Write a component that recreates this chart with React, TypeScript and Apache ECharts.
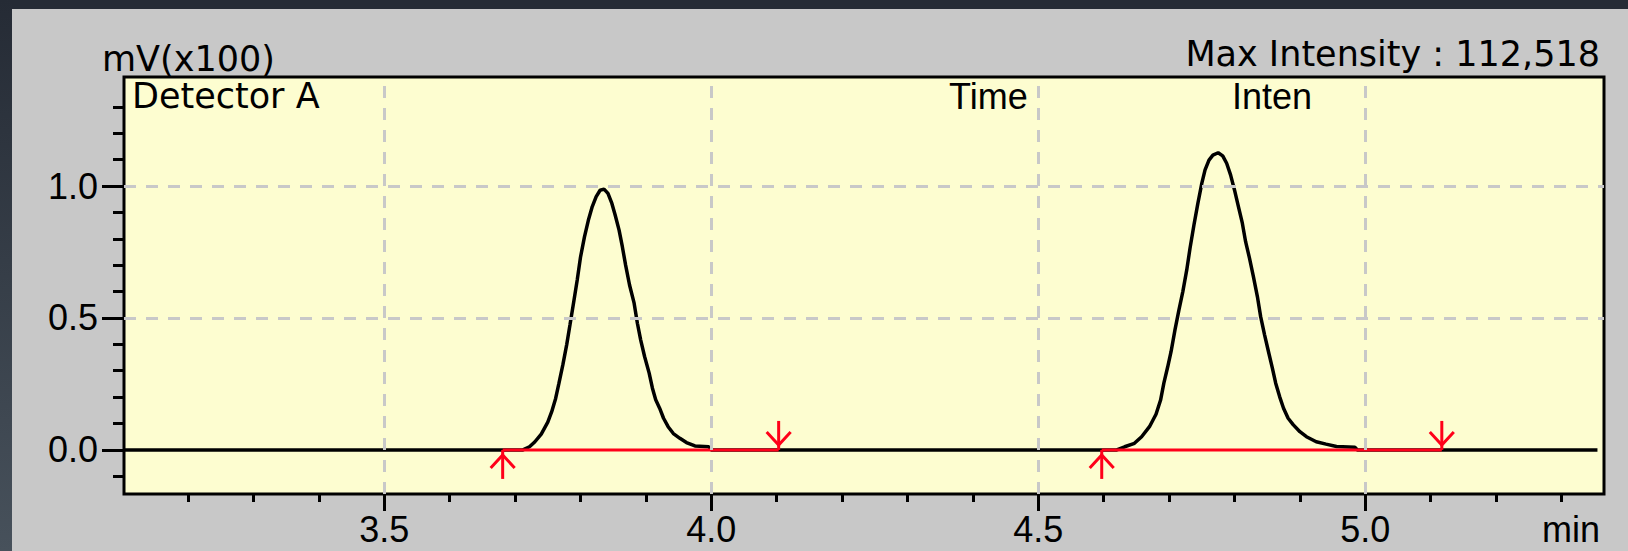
import React, { useEffect, useRef } from 'react';
import * as echarts from 'echarts';

// ---- axis ranges & ticks ----
const xMin = 3.102;
const xMax = 5.365;
const yMin = -0.167;
const yMax = 1.413;

const xMajorTicks = [3.5, 4.0, 4.5, 5.0];
const xMinorTicks = [3.2, 3.3, 3.4, 3.6, 3.7, 3.8, 3.9, 4.1, 4.2, 4.3, 4.4, 4.6, 4.7, 4.8, 4.9, 5.1, 5.2, 5.3];
const yMajorTicks = [0, 0.5, 1.0];
const yMinorTicks = [-0.1, 0.1, 0.2, 0.3, 0.4, 0.6, 0.7, 0.8, 0.9, 1.1, 1.2, 1.3];
const xGridLines = [3.5, 4.0, 4.5, 5.0];
const yGridLines = [0.5, 1.0];

// ---- chromatogram (min, mV x100) ----
const signalStart = 3.102;
const signalEnd = 5.355;

const peak1Time = [3.712, 3.722, 3.730, 3.740, 3.750, 3.756, 3.762, 3.767, 3.773, 3.779, 3.784, 3.790, 3.795, 3.800, 3.806, 3.812, 3.818, 3.824, 3.830, 3.836, 3.842, 3.848, 3.853, 3.859, 3.864, 3.869, 3.875, 3.882, 3.887, 3.892, 3.898, 3.905, 3.910, 3.915, 3.921, 3.927, 3.934, 3.942, 3.952, 3.962, 3.975, 3.996, 4.000];
const peak1Inten = [0, 0.012, 0.030, 0.060, 0.105, 0.145, 0.195, 0.252, 0.322, 0.400, 0.475, 0.566, 0.644, 0.730, 0.806, 0.870, 0.922, 0.960, 0.984, 0.988, 0.972, 0.934, 0.890, 0.833, 0.770, 0.700, 0.625, 0.556, 0.480, 0.417, 0.354, 0.291, 0.234, 0.190, 0.158, 0.120, 0.088, 0.062, 0.044, 0.028, 0.015, 0.012, 0];

const peak2Time = [4.620, 4.632, 4.647, 4.658, 4.670, 4.680, 4.687, 4.692, 4.698, 4.703, 4.709, 4.715, 4.721, 4.727, 4.732, 4.738, 4.744, 4.750, 4.755, 4.761, 4.767, 4.775, 4.782, 4.788, 4.794, 4.800, 4.806, 4.812, 4.817, 4.823, 4.829, 4.835, 4.840, 4.846, 4.852, 4.858, 4.863, 4.869, 4.875, 4.882, 4.890, 4.900, 4.910, 4.925, 4.940, 4.956, 4.984, 4.988];
const peak2Inten = [0, 0.012, 0.025, 0.050, 0.088, 0.135, 0.189, 0.253, 0.316, 0.372, 0.455, 0.530, 0.600, 0.682, 0.764, 0.852, 0.934, 1.010, 1.061, 1.098, 1.117, 1.126, 1.114, 1.086, 1.042, 0.985, 0.922, 0.859, 0.789, 0.726, 0.656, 0.581, 0.505, 0.436, 0.372, 0.309, 0.253, 0.202, 0.158, 0.120, 0.095, 0.069, 0.050, 0.031, 0.022, 0.013, 0.010, 0];

// integration marks
const peakStarts = [3.681, 4.597];
const peakEnds = [4.103, 5.117];

const RED = '#ff0019';
const GRID_GREY = '#c8c8c8';

export default function App() {
  const ref = useRef<HTMLDivElement>(null);

  useEffect(() => {
    if (!ref.current) return;
    const chart = echarts.init(ref.current, undefined, { renderer: 'svg' });

    const signal: number[][] = [[signalStart, 0]];
    peak1Time.forEach((t, i) => signal.push([t, peak1Inten[i]]));
    peak2Time.forEach((t, i) => signal.push([t, peak2Inten[i]]));
    signal.push([signalEnd, 0]);

    const markerData: number[][] = [];
    peakStarts.forEach((t) => markerData.push([t, 0, 1]));
    peakEnds.forEach((t) => markerData.push([t, 0, -1]));

    const baselineSeries = peakStarts.map((s, i) => ({
      type: 'line',
      data: [[s, 0], [peakEnds[i], 0]],
      symbol: 'none',
      silent: true,
      z: 4,
      lineStyle: { color: RED, width: 3 },
    }));

    const tickLine = { color: '#000', width: 3 };
    const labelFont = { color: '#000', fontSize: 36, fontFamily: '"Liberation Sans", Arial, sans-serif' };
    const noLine = { show: false, onZero: false };

    const option: any = {
      animation: false,
      backgroundColor: '#c8c8c8',
      grid: {
        left: 124,
        top: 77,
        width: 1480,
        height: 417,
        show: true,
        backgroundColor: '#fdfdd0',
        borderColor: '#000',
        borderWidth: 3,
        containLabel: false,
      },
      xAxis: [
        {
          type: 'value', min: xMin, max: xMax, position: 'bottom',
          axisLine: noLine, splitLine: { show: false },
          axisTick: { show: true, inside: false, length: 17, customValues: xMajorTicks, lineStyle: tickLine },
          axisLabel: {
            show: true, customValues: xMajorTicks, formatter: (v: number) => v.toFixed(1),
            margin: 35, verticalAlign: 'middle', ...labelFont,
          },
        },
        {
          type: 'value', min: xMin, max: xMax, position: 'bottom',
          axisLine: noLine, splitLine: { show: false }, axisLabel: { show: false },
          axisTick: { show: true, inside: false, length: 8, customValues: xMinorTicks, lineStyle: tickLine },
        },
      ],
      yAxis: [
        {
          type: 'value', min: yMin, max: yMax, position: 'left',
          axisLine: noLine, splitLine: { show: false },
          axisTick: { show: true, inside: false, length: 22, customValues: yMajorTicks, lineStyle: tickLine },
          axisLabel: {
            show: true, customValues: yMajorTicks, formatter: (v: number) => v.toFixed(1),
            margin: 26, ...labelFont,
          },
        },
        {
          type: 'value', min: yMin, max: yMax, position: 'left',
          axisLine: noLine, splitLine: { show: false }, axisLabel: { show: false },
          axisTick: { show: true, inside: false, length: 11, customValues: yMinorTicks, lineStyle: tickLine },
        },
      ],
      series: [
        {
          type: 'line',
          data: [],
          z: 1,
          silent: true,
          markLine: {
            silent: true,
            symbol: ['none', 'none'],
            label: { show: false },
            lineStyle: { color: GRID_GREY, width: 3, type: [12, 10] },
            data: [
              ...xGridLines.map((v) => ({ xAxis: v })),
              ...yGridLines.map((v) => ({ yAxis: v })),
            ],
          },
        },
        {
          type: 'line',
          data: signal,
          symbol: 'none',
          silent: true,
          z: 3,
          lineStyle: { color: '#000', width: 3.5 },
        },
        ...baselineSeries,
        {
          type: 'custom',
          data: markerData,
          z: 5,
          silent: true,
          encode: { x: 0, y: 1 },
          renderItem: (params: any, api: any) => {
            const p = api.coord([api.value(0), api.value(1)]);
            const dir = api.value(2); // 1 = start (below, arrow up), -1 = end (above, arrow down)
            const x = p[0];
            const y = p[1];
            const stroke = { stroke: RED, lineWidth: 3, fill: 'none' };
            return {
              type: 'group',
              children: [
                { type: 'line', shape: { x1: x, y1: y, x2: x, y2: y + dir * 29 }, style: stroke },
                {
                  type: 'polyline',
                  shape: { points: [[x - 12, y + dir * 18], [x, y + dir * 5], [x + 12, y + dir * 18]] },
                  style: stroke,
                },
              ],
            };
          },
        },
      ],
      graphic: {
        elements: [
          { type: 'rect', z: 100, shape: { x: 0, y: 0, width: 1628, height: 9 }, style: { fill: '#252b35' } },
          {
            type: 'rect', z: 100, shape: { x: 0, y: 0, width: 12, height: 551 },
            style: {
              fill: new echarts.graphic.LinearGradient(0, 0, 0, 1, [
                { offset: 0, color: '#252b35' },
                { offset: 1, color: '#47515b' },
              ]),
            },
          },
          {
            type: 'text', z: 100, x: 102, y: 59,
            style: { text: 'mV(x100)', fill: '#000', fontSize: 35, fontFamily: '"DejaVu Sans"', align: 'left', verticalAlign: 'middle' },
          },
          {
            type: 'text', z: 100, x: 1600, y: 54,
            style: { text: 'Max Intensity : 112,518', fill: '#000', fontSize: 35, fontFamily: '"DejaVu Sans"', align: 'right', verticalAlign: 'middle' },
          },
          {
            type: 'text', z: 100, x: 132, y: 96,
            style: { text: 'Detector A', fill: '#000', fontSize: 35, fontFamily: '"DejaVu Sans"', align: 'left', verticalAlign: 'middle' },
          },
          {
            type: 'text', z: 100, x: 949, y: 96,
            style: { text: 'Time', fill: '#000', fontSize: 36, fontFamily: '"Liberation Sans", Arial', align: 'left', verticalAlign: 'middle' },
          },
          {
            type: 'text', z: 100, x: 1232, y: 96,
            style: { text: 'Inten', fill: '#000', fontSize: 36, fontFamily: '"Liberation Sans", Arial', align: 'left', verticalAlign: 'middle' },
          },
          {
            type: 'text', z: 100, x: 1600, y: 529,
            style: { text: 'min', fill: '#000', fontSize: 36, fontFamily: '"Liberation Sans", Arial', align: 'right', verticalAlign: 'middle' },
          },
        ],
      },
    };

    chart.setOption(option);
    return () => chart.dispose();
  }, []);

  return <div ref={ref} style={{ position: 'absolute', left: 0, top: 0, width: 1628, height: 551 }} />;
}
